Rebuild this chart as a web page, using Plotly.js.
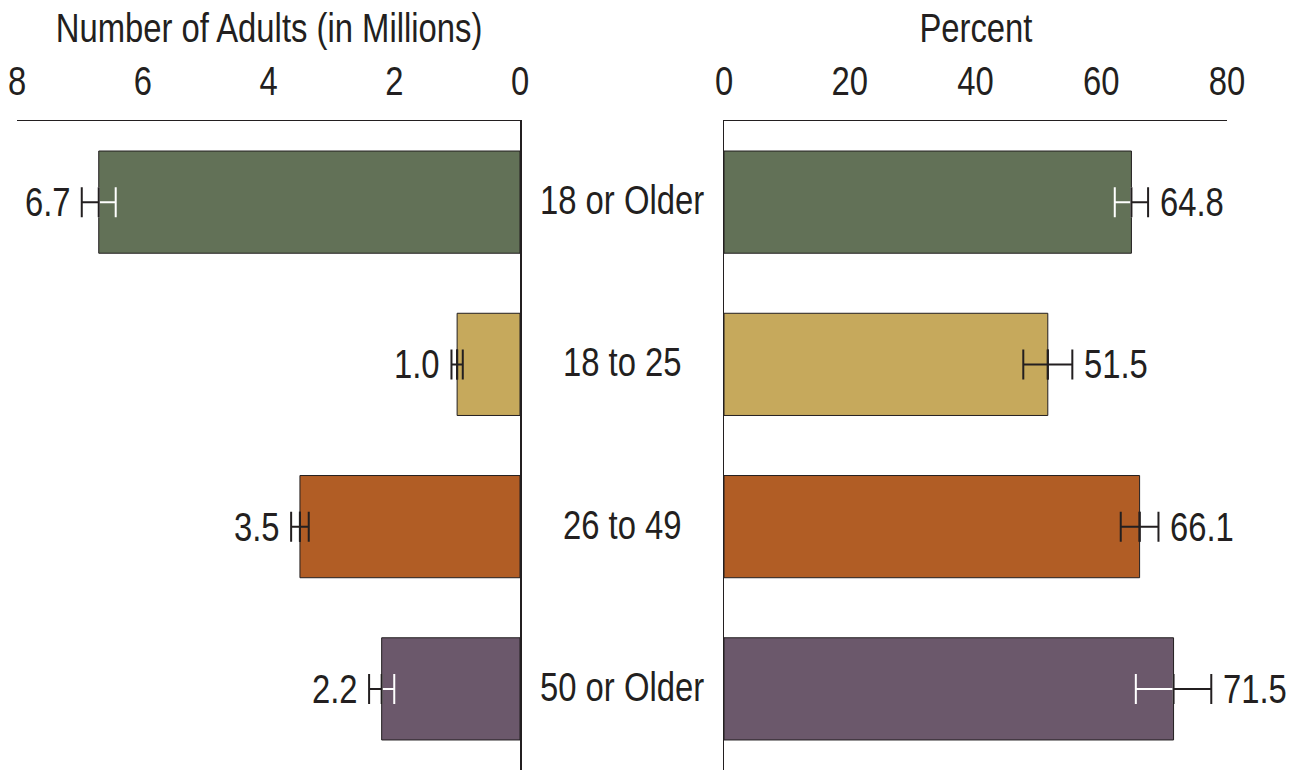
<!DOCTYPE html>
<html>
<head>
<meta charset="utf-8">
<script src="https://cdn.plot.ly/plotly-3.0.1.min.js"></script>
<style>html,body{margin:0;padding:0;background:#fff;}#chart{width:1301px;height:773px;}</style>
</head>
<body>
<div id="chart"></div>
<script>
// ---- data ----
const categories = ["18 or Older", "18 to 25", "26 to 49", "50 or Older"];
const adultsMillions = [6.7, 1.0, 3.5, 2.2];
const adultsError = [0.27, 0.09, 0.14, 0.2];
const percentValues = [64.8, 51.5, 66.1, 71.5];
const percentError = [2.65, 3.9, 3.0, 6.0];
const barColors = ["#627157", "#c6a95c", "#b15d25", "#6b586b"];
const innerErrorColors = ["#ffffff", "#231f20", "#231f20", "#ffffff"];
const leftTicks = [0, 2, 4, 6, 8];
const rightTicks = [0, 20, 40, 60, 80];
const leftTitle = "Number of Adults (in Millions)";
const rightTitle = "Percent";

const FONT = "'Liberation Sans Narrow', 'Arial Narrow', 'Liberation Sans', sans-serif";
const INK = "#231f20";
const CONDENSE = 0.82;

const traces = [];
traces.push({
  type: "bar", orientation: "h", x: adultsMillions, y: categories,
  xaxis: "x", yaxis: "y", width: 0.63,
  marker: {color: barColors, line: {color: INK, width: 1}}
});
traces.push({
  type: "bar", orientation: "h", x: percentValues, y: categories,
  xaxis: "x2", yaxis: "y2", width: 0.63,
  marker: {color: barColors, line: {color: INK, width: 1}}
});

function errTraces(vals, errs, xa, ya) {
  categories.forEach((c, i) => {
    traces.push({
      type: "scatter", mode: "markers", x: [vals[i]], y: [c], xaxis: xa, yaxis: ya,
      marker: {opacity: 0, size: 1},
      error_x: {type: "data", symmetric: false, array: [0], arrayminus: [errs[i]],
        color: innerErrorColors[i], thickness: 2, width: 15}
    });
    traces.push({
      type: "scatter", mode: "markers", x: [vals[i]], y: [c], xaxis: xa, yaxis: ya,
      marker: {opacity: 0, size: 1},
      error_x: {type: "data", symmetric: false, array: [errs[i]], arrayminus: [0],
        color: INK, thickness: 2, width: 15}
    });
  });
}
errTraces(adultsMillions, adultsError, "x", "y");
errTraces(percentValues, percentError, "x2", "y2");

const annotations = [];
categories.forEach((c, i) => {
  annotations.push({
    xref: "x", yref: "y", x: adultsMillions[i] + adultsError[i], y: c,
    text: adultsMillions[i].toFixed(1), showarrow: false,
    xanchor: "right", xshift: -4, font: {family: FONT, size: 40, color: INK}
  });
  annotations.push({
    xref: "x2", yref: "y2", x: percentValues[i] + percentError[i], y: c,
    text: percentValues[i].toFixed(1), showarrow: false,
    xanchor: "left", xshift: 3, font: {family: FONT, size: 40, color: INK}
  });
  annotations.push({
    xref: "paper", yref: "y", x: 622 / 1301, y: c, yshift: 2,
    text: c, showarrow: false, xanchor: "center",
    font: {family: FONT, size: 40, color: INK}
  });
});
// axis titles above the tick labels
annotations.push({
  xref: "x domain", yref: "paper", x: 0.5, y: 1, yshift: 93, yanchor: "middle",
  text: leftTitle, showarrow: false, font: {family: FONT, size: 40, color: INK}
});
annotations.push({
  xref: "x2 domain", yref: "paper", x: 0.5, y: 1, yshift: 93, yanchor: "middle",
  text: rightTitle, showarrow: false, font: {family: FONT, size: 40, color: INK}
});

const axisCommon = {
  side: "top", showgrid: false, zeroline: false, showline: true,
  linecolor: INK, linewidth: 1.5, ticks: "", ticklabelstandoff: 9,
  tickfont: {family: FONT, size: 40, color: INK}, fixedrange: true
};

const layout = {
  width: 1301, height: 773,
  margin: {l: 0, r: 0, t: 121, b: 3},
  paper_bgcolor: "#fff", plot_bgcolor: "#fff",
  showlegend: false, hovermode: false,
  xaxis: Object.assign({}, axisCommon, {
    domain: [17 / 1301, 520 / 1301], range: [8, 0], anchor: "y",
    tickvals: leftTicks, ticktext: leftTicks.map(String)
  }),
  xaxis2: Object.assign({}, axisCommon, {
    domain: [724 / 1301, 1227 / 1301], range: [0, 80], anchor: "y2",
    tickvals: rightTicks, ticktext: rightTicks.map(String)
  }),
  yaxis: {
    anchor: "x", side: "right", range: [3.5, -0.5], type: "category",
    showline: true, linecolor: INK, linewidth: 1.5, showticklabels: false,
    ticks: "", showgrid: false, zeroline: false, fixedrange: true
  },
  yaxis2: {
    anchor: "x2", side: "left", range: [3.5, -0.5], type: "category",
    showline: true, linecolor: INK, linewidth: 1.5, showticklabels: false,
    ticks: "", showgrid: false, zeroline: false, fixedrange: true
  },
  annotations: annotations
};

// Narrow the glyphs (the original uses a condensed typeface) while keeping real text.
function condenseText() {
  document.querySelectorAll("#chart svg text").forEach(t => {
    const w = t.getComputedTextLength();
    if (w > 0) {
      t.setAttribute("textLength", (w * CONDENSE).toFixed(2));
      t.setAttribute("lengthAdjust", "spacingAndGlyphs");
    }
  });
}

Plotly.newPlot("chart", traces, layout, {displayModeBar: false, staticPlot: true}).then(condenseText);
</script>
</body>
</html>
